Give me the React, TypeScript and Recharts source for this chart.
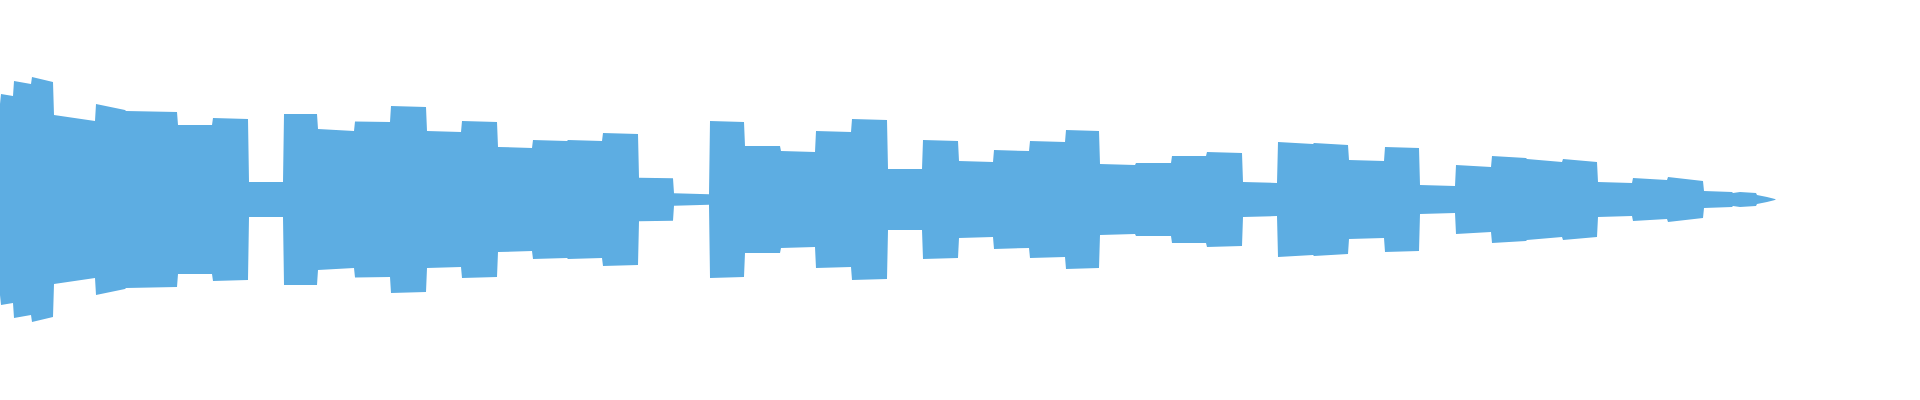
import { AreaChart, Area, XAxis, YAxis } from 'recharts';

// breakpoints along the time axis and the envelope half-height at each one
const times = [
  0, 1, 13, 14, 31, 32, 53, 54, 95, 96, 125, 126, 177, 178, 212, 213, 248, 249, 283, 284,
  317, 318, 354, 355, 390, 391, 426, 427, 461, 462, 497, 498, 532, 533, 567, 568, 602, 603, 638, 639,
  673, 674, 709, 710, 744, 745, 780, 781, 815, 816, 851, 852, 887, 888, 922, 923, 958, 959, 993, 994,
  1029, 1030, 1065, 1066, 1099, 1100, 1135, 1136, 1171, 1172, 1206, 1207, 1242, 1243, 1277, 1278, 1313, 1314, 1348, 1349,
  1384, 1385, 1419, 1420, 1455, 1456, 1491, 1492, 1526, 1527, 1562, 1563, 1597, 1598, 1632, 1633, 1667, 1668, 1703, 1704,
  1732, 1733, 1740, 1756, 1757, 1762, 1767, 1771, 1774, 1776,
];

const amplitudes = [
  95.5, 105.5, 103.5, 118.5, 115.5, 122.5, 117.5, 84.5, 78.5, 95.5, 89.5, 88.5, 87.5, 74.5, 74.5, 81.5, 80.5, 17.5, 17.5, 85.5,
  85.5, 70.5, 68.5, 78, 77.5, 93.5, 92.5, 68.5, 67.5, 78.5, 77.5, 52.5, 51.5, 59.5, 58.5, 59.5, 58.5, 66.5, 65.5, 21.8,
  21.2, 6.2, 5.2, 78.5, 77.5, 53.5, 53.5, 48.5, 47.5, 68.5, 67.5, 80.5, 79.5, 30.5, 30.5, 59.5, 58.5, 38.5, 37.5, 49.5,
  48.5, 58.5, 57.5, 69.5, 68.5, 35.5, 34.5, 36.5, 36.5, 43.5, 43.5, 47.5, 46.5, 17.5, 16.5, 57.5, 55.5, 56.5, 54.5, 39.5,
  38.5, 52.5, 51.5, 14.5, 13.5, 34.5, 32.5, 43.5, 41.5, 40.5, 37.5, 40.5, 37.5, 17.5, 16.5, 21.5, 19.5, 22.5, 18.5, 8.5,
  7.5, 6.5, 7.5, 6.5, 4.5, 3.5, 2.5, 1.5, 0.8, 0,
];

const data = times.map((t, i) => ({ t, range: [-amplitudes[i], amplitudes[i]] }));

export default function App() {
  return (
    <div style={{ position: 'absolute', left: 0, top: 0, width: 1920, height: 400, background: '#fff' }}>
      <AreaChart width={1920} height={399} data={data} margin={{ top: 0, right: 0, bottom: 0, left: 0 }}>
        <XAxis dataKey="t" type="number" domain={[0, 1920]} hide />
        <YAxis type="number" domain={[-199.5, 199.5]} hide />
        <Area
          type="linear"
          dataKey="range"
          stroke="none"
          fill="#5dade2"
          fillOpacity={1}
          dot={false}
          activeDot={false}
          isAnimationActive={false}
        />
      </AreaChart>
    </div>
  );
}
